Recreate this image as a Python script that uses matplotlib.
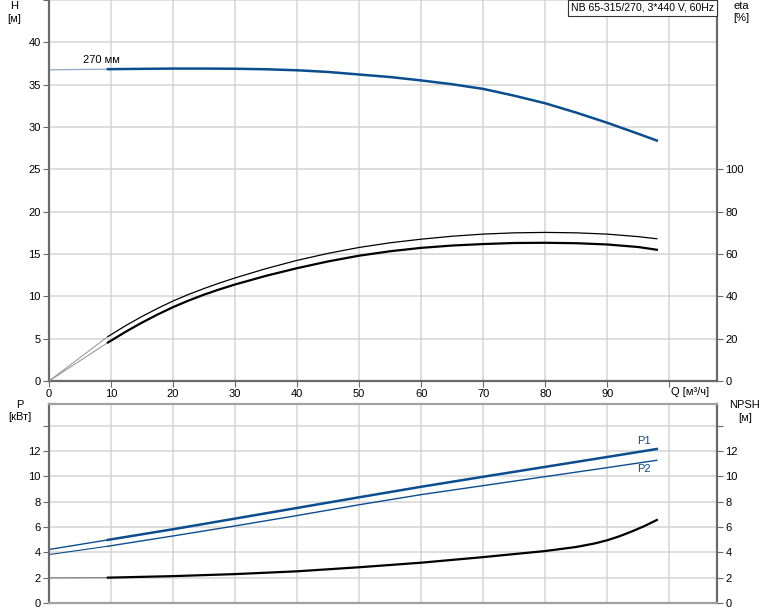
import numpy as np
import matplotlib
matplotlib.use('Agg')
import matplotlib.pyplot as plt

# ---- data ----
q_h = [0, 9.5, 15, 20, 25, 30, 35, 40, 45, 50, 55, 60, 65, 70, 75, 80, 85, 90, 95, 98]
h_270 = [36.75, 36.83, 36.87, 36.9, 36.9, 36.88, 36.82, 36.7, 36.5, 36.2, 35.9, 35.5,
         35.05, 34.5, 33.7, 32.8, 31.7, 30.5, 29.2, 28.4]

q_eta = [0, 9.5, 12.5, 15, 17.5, 20, 22.5, 25, 27.5, 30, 35, 40, 45, 50, 55, 60, 65, 70,
         75, 80, 85, 90, 95, 98]
eta_pump = [0, 21.0, 26.4, 30.5, 34.3, 37.8, 40.9, 43.7, 46.3, 48.7, 53.1, 57.0, 60.3, 63.1,
            65.3, 67.0, 68.4, 69.4, 70.0, 70.2, 70.0, 69.4, 68.2, 67.2]
eta_tot = [0, 18.2, 23.5, 27.6, 31.4, 34.9, 38.0, 40.8, 43.3, 45.6, 49.7, 53.3, 56.5, 59.2,
           61.3, 62.9, 64.0, 64.7, 65.2, 65.3, 65.1, 64.5, 63.3, 62.0]

q_p = [0, 9.5, 20, 30, 40, 50, 60, 70, 80, 90, 98]
p1 = [4.22, 4.98, 5.82, 6.66, 7.5, 8.34, 9.17, 9.96, 10.74, 11.52, 12.15]
p2 = [3.82, 4.48, 5.29, 6.08, 6.9, 7.75, 8.55, 9.26, 9.97, 10.68, 11.26]

q_npsh = [0, 9.5, 20, 30, 40, 50, 60, 70, 80, 85, 88, 90, 92, 94, 96, 98]
npsh = [1.98, 2.0, 2.12, 2.28, 2.5, 2.82, 3.18, 3.62, 4.1, 4.42, 4.7, 4.95, 5.27, 5.65, 6.07, 6.55]

q_ticks = [0, 10, 20, 30, 40, 50, 60, 70, 80, 90, 100]
q_ticklabels = ['0', '10', '20', '30', '40', '50', '60', '70', '80', '90', '']

Q_START = 9.5   # start of the drawn operating range
BLUE = '#0b4d8e'
GRID = '#d4d4d4'
SPINE = '#6a6a6a'
FS = 8

plt.rcParams['font.family'] = ['Liberation Sans', 'DejaVu Sans']


def split(q, v):
    q = np.asarray(q, float)
    v = np.asarray(v, float)
    lo = q <= Q_START
    hi = q >= Q_START
    return (q[lo], v[lo]), (q[hi], v[hi])


def style(ax):
    ax.set_xlim(0, 107.7)
    ax.set_xticks(q_ticks)
    ax.grid(True, color=GRID, lw=1.1)
    ax.set_axisbelow(True)
    for s in ['left', 'right', 'bottom', 'top']:
        ax.spines[s].set_color(SPINE)
    ax.spines['left'].set_linewidth(1.6)
    ax.spines['right'].set_linewidth(1.6)
    ax.spines['top'].set_visible(False)
    ax.tick_params(axis='both', labelsize=FS, length=4, color=SPINE, pad=2)


fig = plt.figure(figsize=(7.74, 6.11), dpi=100)

#############
# top panel #
#############
ax1 = fig.add_axes([49/774, 1-381/611, 668/774, 381/611])
style(ax1)
ax1.set_ylim(0, 45)
ax1.set_yticks(np.arange(0, 46, 5))
ax1.set_yticklabels([str(v) for v in range(0, 41, 5)] + [''])
ax1.set_xticklabels(q_ticklabels)
ax1.spines['bottom'].set_linewidth(1.6)

(a, b), (c, d) = split(q_h, h_270)
ax1.plot(a, b, color='#8fa8c4', lw=0.9)
ax1.plot(c, d, color=BLUE, lw=1.8)
ax1.text(8.5, 37.3, '270 мм', fontsize=FS, ha='center', va='bottom')

ax1r = ax1.twinx()
ax1r.set_ylim(0, 180)
ax1r.set_yticks(np.arange(0, 101, 20))
ax1r.tick_params(axis='y', labelsize=FS, length=4, color=SPINE, pad=2)
for s in ['left', 'right', 'bottom', 'top']:
    ax1r.spines[s].set_visible(False)

(a, b), (c, d) = split(q_eta, eta_pump)
ax1r.plot(a, b, color='#909090', lw=0.7)
ax1r.plot(c, d, color='black', lw=0.9)
(a, b), (c, d) = split(q_eta, eta_tot)
ax1r.plot(a, b, color='#909090', lw=0.7)
ax1r.plot(c, d, color='black', lw=1.6)

ax1.text((714-49)/668, 1-3/381, 'NB 65-315/270, 3*440 V, 60Hz', transform=ax1.transAxes,
         fontsize=7.6, ha='right', va='top', zorder=5,
         bbox=dict(boxstyle='square,pad=0.25', fc='white', ec='#333333', lw=0.8))

fig.text(14/774, 1-6/611, 'H', fontsize=FS, ha='center', va='center')
fig.text(14/774, 1-19/611, '[м]', fontsize=FS, ha='center', va='center')
fig.text(741/774, 1-6/611, 'eta', fontsize=FS, ha='center', va='center')
fig.text(741/774, 1-18/611, '[%]', fontsize=FS, ha='center', va='center')
fig.text(690/774, 1-392/611, 'Q [м³/ч]', fontsize=FS, ha='center', va='center')

################
# bottom panel #
################
ax2 = fig.add_axes([49/774, 1-603/611, 668/774, 199/611])
style(ax2)
ax2.set_ylim(0, 15.7)
ax2.set_yticks(np.arange(0, 15, 2))
ax2.set_yticklabels([str(v) for v in range(0, 13, 2)] + [''])
ax2.set_xticklabels([])
ax2.tick_params(axis='x', length=0)
ax2.spines['top'].set_visible(True)
ax2.spines['top'].set_color('#a0a0a0')
ax2.spines['top'].set_linewidth(1.6)
ax2.spines['bottom'].set_color('#a0a0a0')
ax2.spines['bottom'].set_linewidth(1.6)

(a, b), (c, d) = split(q_p, p1)
ax2.plot(a, b, color=BLUE, lw=1.0)
ax2.plot(c, d, color=BLUE, lw=1.8)
(a, b), (c, d) = split(q_p, p2)
ax2.plot(a, b, color=BLUE, lw=0.8)
ax2.plot(c, d, color=BLUE, lw=1.0)
ax2.text(96, 12.35, 'P1', fontsize=FS, color=BLUE, ha='center', va='bottom')
ax2.text(96, 11.0, 'P2', fontsize=FS, color=BLUE, ha='center', va='top')

ax2r = ax2.twinx()
ax2r.set_ylim(0, 15.7)
ax2r.set_yticks(np.arange(0, 15, 2))
ax2r.set_yticklabels([str(v) for v in range(0, 13, 2)] + [''])
ax2r.tick_params(axis='y', labelsize=FS, length=4, color=SPINE, pad=2)
for s in ['left', 'right', 'bottom', 'top']:
    ax2r.spines[s].set_visible(False)

(a, b), (c, d) = split(q_npsh, npsh)
ax2r.plot(a, b, color='#808080', lw=0.9)
ax2r.plot(c, d, color='black', lw=1.6)

fig.text(20/774, 1-405/611, 'P', fontsize=FS, ha='center', va='center')
fig.text(20/774, 1-417/611, '[кВт]', fontsize=FS, ha='center', va='center')
fig.text(745/774, 1-405/611, 'NPSH', fontsize=FS, ha='center', va='center')
fig.text(745/774, 1-418/611, '[м]', fontsize=FS, ha='center', va='center')

fig.savefig('out.png', dpi=100)
